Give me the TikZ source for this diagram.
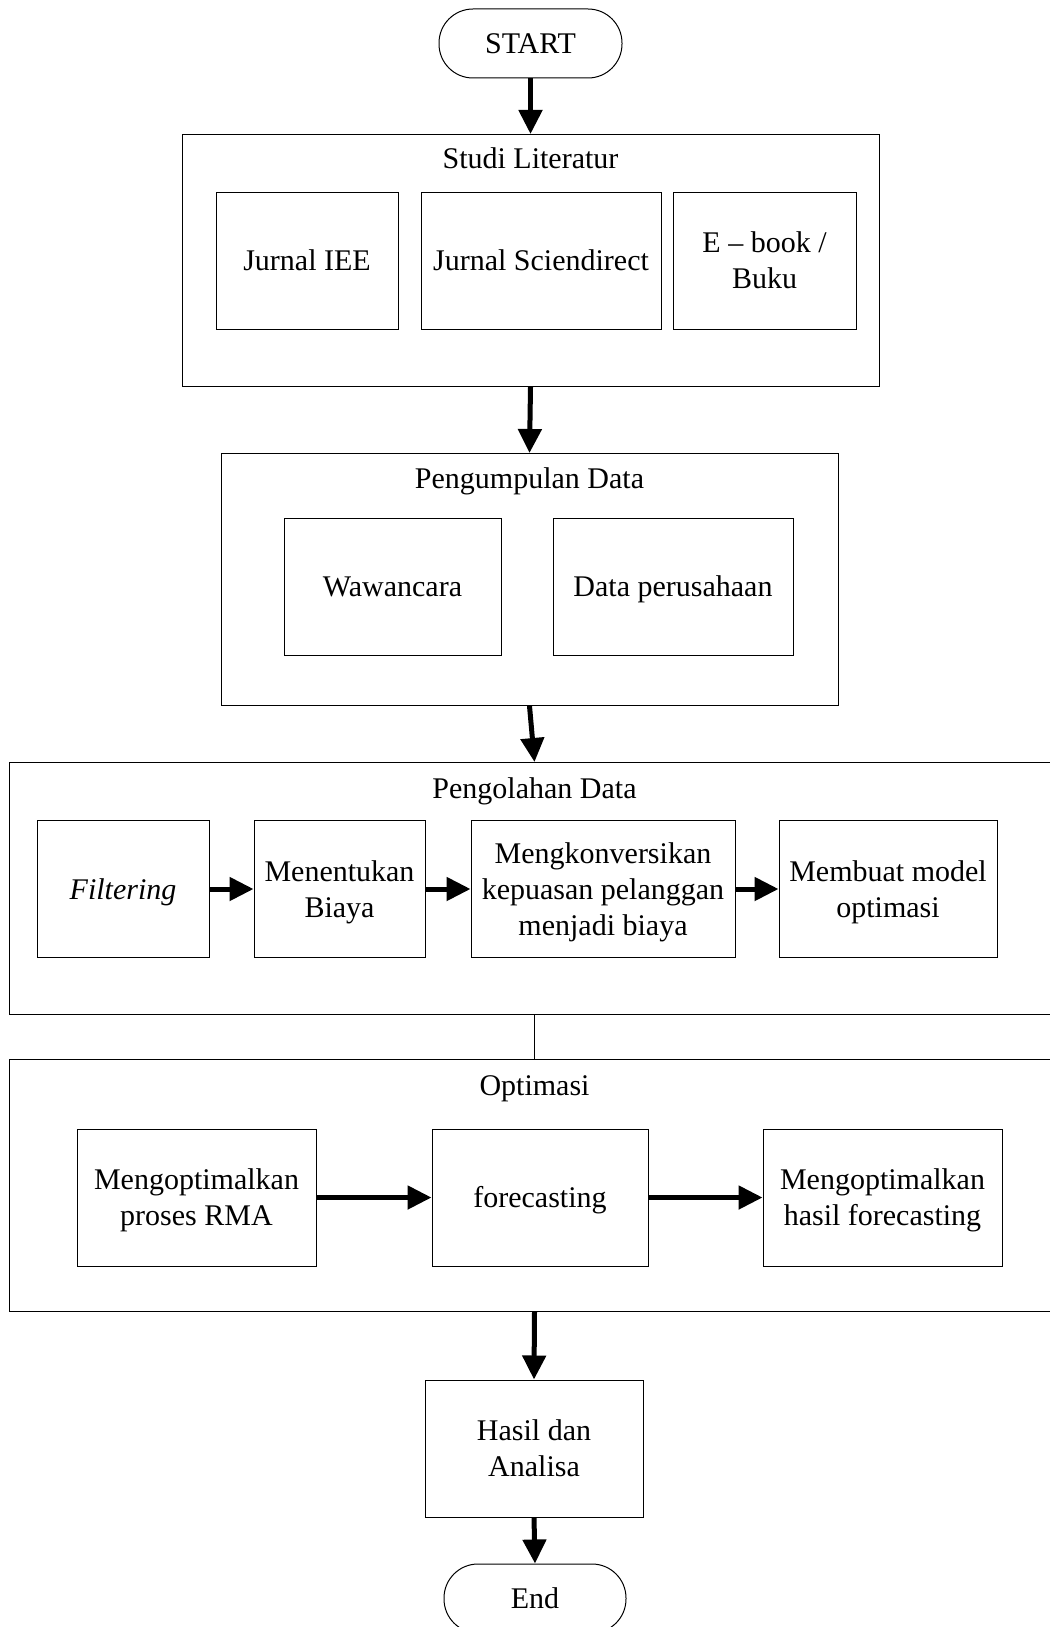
\documentclass[tikz,border=0pt]{standalone}
\usepackage{fontspec}
\setmainfont{Liberation Serif}
\usetikzlibrary{arrows.meta,positioning}
\newcommand{\lineht}{\rule{0pt}{26.7pt}}

\begin{document}
\begin{tikzpicture}[x=1pt,y=-1pt,
    box/.style={draw,line width=1pt,inner sep=2pt,align=center,font=\fontsize{30}{36}\selectfont,
        text depth=6.5pt,execute at begin node={\lineht}},
    group/.style={draw,line width=1pt,inner sep=0pt,minimum height=252pt},
    item/.style={box,minimum height=137pt},
    title/.style={anchor=base,inner sep=0pt,font=\fontsize{30}{36}\selectfont},
    term/.style={box,rounded corners=34pt,minimum width=183pt,minimum height=69pt},
    flow/.style={line width=5pt,-{Triangle[length=24pt,width=23pt]}}]
    \useasboundingbox (0,0) rectangle (1049,1627);

    \node[term] (start) at (530.5,43.5) {START};

    \node[group,minimum width=697pt] (studi) at (530.5,260.5) {};
    \node[title] (studilbl) at ([yshift=-34pt]studi.north) {Studi Literatur};
    \node[item,minimum width=182pt] (iee) at (307,260.5) {Jurnal IEE};
    \node[item,minimum width=240pt] (sciendirect) at (541,260.5) {Jurnal Sciendirect};
    \node[item,minimum width=183pt] (ebook) at (764.5,260.5) {\lineht E -- book /\\Buku};

    \node[group,minimum width=617pt] (kumpul) at (529.5,579.5) {};
    \node[title] (kumpullbl) at ([yshift=-35pt]kumpul.north) {Pengumpulan Data};
    \node[item,minimum width=217pt] (wawancara) at (392.5,586.5) {Wawancara};
    \node[item,minimum width=240pt] (dataper) at (673,586.5) {Data perusahaan};

    \node[group,minimum width=1051pt] (olah) at (534.5,888.5) {};
    \node[title] (olahlbl) at ([yshift=-36pt]olah.north) {Pengolahan Data};
    \node[item,minimum width=172pt] (filtering) at (123,889) {\textit{Filtering}};
    \node[item,minimum width=171pt] (biaya) at (339.5,889) {\lineht Menentukan\\Biaya};
    \node[item,minimum width=264pt] (konversi) at (603,889) {\lineht Mengkonversikan\\kepuasan pelanggan\\menjadi biaya};
    \node[item,minimum width=218pt] (model) at (888,889) {\lineht Membuat model\\optimasi};

    \node[group,minimum width=1051pt] (optimasi) at (534.5,1185.5) {};
    \node[title] (optimasilbl) at ([yshift=-36pt]optimasi.north) {Optimasi};
    \node[item,minimum width=239pt] (rma) at (196.5,1197.5) {\lineht Mengoptimalkan\\proses RMA};
    \node[item,minimum width=216pt] (forecast) at (540,1197.5) {forecasting};
    \node[item,minimum width=239pt] (hasilfc) at (882.5,1197.5) {\lineht Mengoptimalkan\\hasil forecasting};

    \node[item,minimum width=218pt] (hasil) at (534,1448.5) {\lineht Hasil dan\\Analisa};
    \node[term,minimum width=182pt] (end) at (535,1598.5) {End};

    \draw[flow] (start.south) -- (studi.north);
    \draw[flow] (studi.south) -- (kumpul.north);
    \draw[flow] (kumpul.south) -- (olah.north);
    \draw[flow] (filtering.east) -- (biaya.west);
    \draw[flow] (biaya.east) -- (konversi.west);
    \draw[flow] (konversi.east) -- (model.west);
    \draw[line width=1pt] (olah.south) -- (optimasi.north);
    \draw[flow] (rma.east) -- (forecast.west);
    \draw[flow] (forecast.east) -- (hasilfc.west);
    \draw[flow] (optimasi.south) -- (hasil.north);
    \draw[flow] (hasil.south) -- (end.north);

\end{tikzpicture}
\end{document}
